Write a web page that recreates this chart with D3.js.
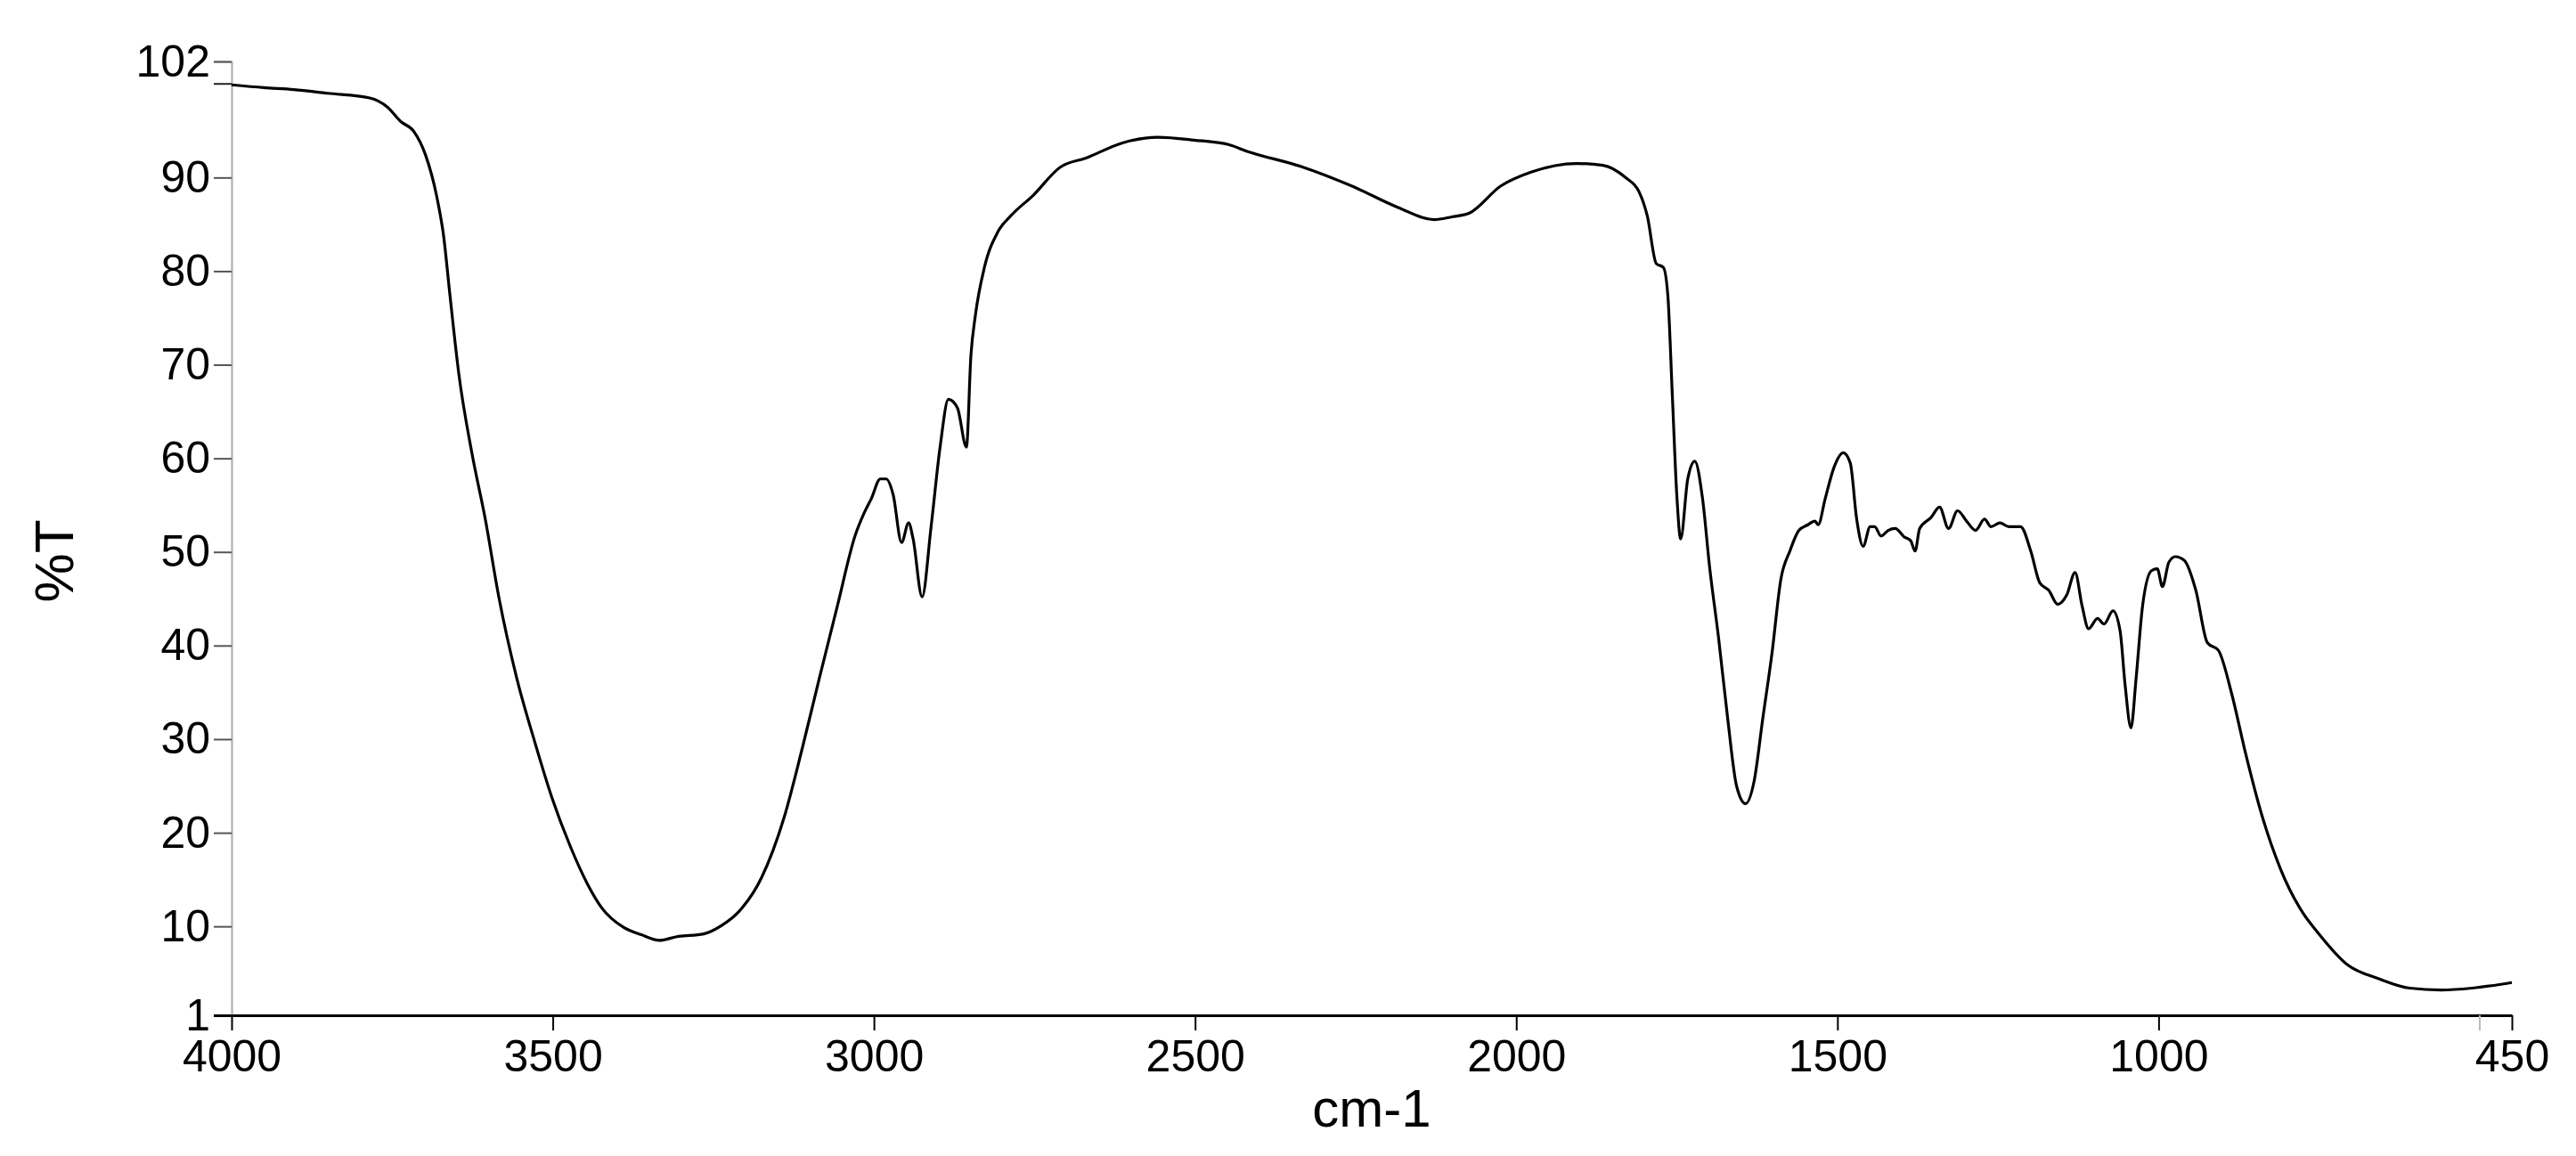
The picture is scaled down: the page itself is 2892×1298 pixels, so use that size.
<!DOCTYPE html>
<html>
<head>
<meta charset="utf-8">
<script src="https://cdn.jsdelivr.net/npm/d3@7"></script>
<style>
  html, body { margin: 0; padding: 0; background: #fff; }
  svg { display: block; }
  text { font-family: "Liberation Sans", Arial, Helvetica, sans-serif; fill: #000; }
</style>
</head>
<body>
<svg id="chart" width="2892" height="1298"></svg>
<script>
// ---- data ----
const wavenumber = [
  4000, 3950, 3903, 3850, 3785, 3757, 3737, 3716, 3698, 3681, 3670, 3660, 3646, 3626, 3605, 3584,
  3556, 3528, 3501, 3473, 3445, 3424, 3390, 3362, 3334, 3307, 3265, 3237, 3210, 3175, 3140, 3112,
  3085, 3057, 3029, 3015, 3004, 2990, 2981, 2970, 2957, 2946, 2939, 2925, 2911, 2897, 2884, 2870,
  2856, 2849, 2842, 2828, 2807, 2787, 2752, 2710, 2669, 2613, 2558, 2502, 2447, 2419, 2336, 2253,
  2184, 2128, 2100, 2073, 2024, 1976, 1906, 1865, 1830, 1809, 1796, 1782, 1771, 1764, 1757, 1750,
  1744, 1733, 1722, 1710, 1699, 1685, 1671, 1657, 1643, 1630, 1616, 1602, 1588, 1574, 1560, 1546,
  1535, 1530, 1519, 1505, 1491, 1480, 1470, 1460, 1449, 1442, 1432, 1421, 1410, 1396, 1386, 1379,
  1372, 1354, 1341, 1327, 1313, 1299, 1285, 1271, 1261, 1247, 1233, 1215, 1199, 1185, 1171, 1157,
  1143, 1130, 1119, 1109, 1095, 1085, 1071, 1060, 1052, 1043, 1035, 1025, 1011, 1002, 994, 984,
  974, 960, 942, 924, 907, 886, 866, 838, 810, 775, 754, 706, 657, 609, 560, 512, 450
];
const transmittance = [
  99.9, 99.6, 99.4, 99.0, 98.5, 97.5, 96.0, 94.9, 92.4, 88.1, 83.8, 77.4, 68.9, 60.6, 53.5, 45.2,
  36.5, 29.7, 23.7, 18.6, 14.4, 12.0, 9.9, 9.1, 8.5, 8.9, 9.2, 10.1, 11.6, 15.2, 21.6, 28.9,
  36.5, 44.2, 51.8, 54.2, 55.7, 57.8, 57.8, 56.1, 51.0, 53.1, 51.4, 45.2, 52.7, 61.2, 66.3, 65.4,
  61.2, 71.0, 75.3, 80.4, 84.2, 85.9, 88.1, 91.1, 92.1, 93.7, 94.3, 94.0, 93.5, 92.8, 91.2, 89.0,
  86.8, 85.5, 85.8, 86.2, 89.1, 90.6, 91.5, 91.3, 90.0, 88.5, 85.9, 80.8, 80.4, 77.4, 66.7, 56.0,
  51.4, 57.8, 59.7, 55.7, 48.4, 40.8, 32.3, 25.0, 23.1, 25.4, 32.3, 39.1, 47.1, 50.1, 52.3, 52.9,
  53.3, 52.9, 55.7, 59.1, 60.6, 59.5, 53.5, 50.6, 52.7, 52.7, 51.7, 52.3, 52.5, 51.6, 51.2, 50.1,
  52.5, 53.7, 54.8, 52.5, 54.4, 53.3, 52.3, 53.5, 52.7, 53.1, 52.7, 52.7, 50.1, 46.7, 45.9, 44.4,
  45.4, 47.8, 44.2, 41.8, 42.9, 42.3, 43.7, 41.6, 35.7, 31.2, 36.5, 44.2, 48.0, 48.2, 46.3, 48.9,
  49.5, 49.1, 45.9, 40.3, 39.5, 34.8, 28.9, 21.6, 16.1, 11.4, 9.5, 5.9, 4.4, 3.4, 3.2, 3.4, 4.0
];
const xDomain = [4000, 450];
const yDomain = [0.5, 102.4];
const xTickValues = [4000, 3500, 3000, 2500, 2000, 1500, 1000, 450];
const xMinorTicks = [500];
const yTickValues = [0.5, 10, 20, 30, 40, 50, 60, 70, 80, 90, 102.4];
const yMinorTicks = [100];
const xTitle = "cm-1";
const yTitle = "%T";

// ---- layout ----
const svg = d3.select("#chart");
const plotLeft = 260, plotRight = 2820, plotTop = 69, plotBottom = 1140;

const x = d3.scaleLinear().domain(xDomain).range([plotLeft, plotRight]);
const y = d3.scaleLinear().domain(yDomain).range([plotBottom, plotTop]);

svg.append("rect").attr("width", 2892).attr("height", 1298).attr("fill", "#fff");

// Y axis
const yAxis = d3.axisLeft(y)
  .tickValues(yTickValues)
  .tickSize(20)
  .tickPadding(4)
  .tickFormat(d => String(Math.round(d)));
const gy = svg.append("g").attr("transform", `translate(${plotLeft},0)`).call(yAxis);
gy.select(".domain").attr("stroke", "#aaaaaa").attr("stroke-width", 2);
gy.selectAll(".tick line").attr("stroke", "#555").attr("stroke-width", 2);
gy.selectAll(".tick text").style("font-size", "50px").attr("fill", "#000");
gy.selectAll(".tick").filter(d => d === yDomain[0]).select("line").attr("stroke", "#000").attr("stroke-width", 3);

// minor y ticks
svg.append("g").selectAll("line").data(yMinorTicks).join("line")
  .attr("x1", plotLeft - 20).attr("x2", plotLeft)
  .attr("y1", d => y(d)).attr("y2", d => y(d))
  .attr("stroke", "#222").attr("stroke-width", 2);

// X axis
const xAxis = d3.axisBottom(x)
  .tickValues(xTickValues)
  .tickSize(17)
  .tickSizeOuter(0)
  .tickPadding(10)
  .tickFormat(d3.format("d"));
const gx = svg.append("g").attr("transform", `translate(0,${plotBottom})`).call(xAxis);
gx.select(".domain").attr("stroke", "#000").attr("stroke-width", 3);
gx.selectAll(".tick line").attr("stroke", "#000").attr("stroke-width", 2);
gx.selectAll(".tick text").style("font-size", "50px").attr("fill", "#000");

// minor x ticks
svg.append("g").selectAll("line").data(xMinorTicks).join("line")
  .attr("x1", d => x(d)).attr("x2", d => x(d))
  .attr("y1", plotBottom).attr("y2", plotBottom + 17)
  .attr("stroke", "#bbb").attr("stroke-width", 2);

// Axis titles
svg.append("text")
  .attr("x", (plotLeft + plotRight) / 2).attr("y", 1265)
  .attr("text-anchor", "middle")
  .style("font-size", "60px")
  .text(xTitle);

svg.append("text")
  .attr("transform", "translate(82,630) rotate(-90)")
  .attr("text-anchor", "middle")
  .style("font-size", "62px")
  .text(yTitle);

// Spectrum line
const points = wavenumber.map((w, i) => [w, transmittance[i]]);
const line = d3.line()
  .x(d => x(d[0]))
  .y(d => y(d[1]))
  .curve(d3.curveMonotoneX);

svg.append("path")
  .datum(points)
  .attr("fill", "none")
  .attr("stroke", "#000")
  .attr("stroke-width", 3.2)
  .attr("stroke-linejoin", "round")
  .attr("d", line);
</script>
</body>
</html>
